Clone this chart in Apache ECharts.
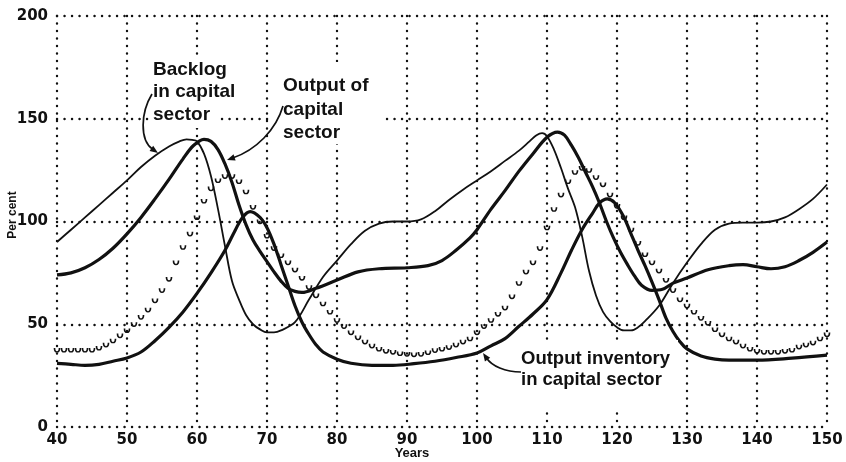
<!DOCTYPE html>
<html><head><meta charset="utf-8">
<script src="https://cdn.jsdelivr.net/npm/echarts@6/dist/echarts.min.js"></script>
<style>html,body{margin:0;padding:0;background:#fff}#c{width:846px;height:462px}</style>
</head><body><div id="c"></div>
<script>
// ---- data ----
const xTicks = [40, 50, 60, 70, 80, 90, 100, 110, 120, 130, 140, 150];
const yTicks = [0, 50, 100, 150, 200];

// Backlog in capital sector (thin line)
const backlogYears = [40,42,44,46,48,50,52,54,56,57.5,58.5,59.3,60,61,62,63,64,65,66,67,68,69,70,71,72,74,76,78,80,82,84,86,88,90,92,94,96,98,100,102,104,106,107.5,108.5,109.3,110,111,112,113,114,115,116,117,118,119,120,121,122,123,124,126,128,130,132,134,136,138,140,142,144,146,148,150];
const backlogValues = [90,96,102,108,114,120,126.5,132,136.5,139,140,139.7,139,133,122,106,88,71,62,54.5,50,47.5,46,46,47,51,62,73,81,89,95.5,99,100,100,101,105,110.5,115.5,120,124.5,129.5,134.5,139,142,143,141.5,135,126,116,107,93,76,64,56,51.5,48.5,47,47,48.5,51.5,59,70,80,89,96,99,99.5,99.5,100,102,106,111,118];

// Output of capital sector (thick line)
const outputYears = [40,42,44,46,48,50,52,54,56,58,59.5,61,62,63,64,65,66,67,68,69,70,71,72,73,74,75,77,80,83,86,90,93,95,97,99,100,102,104,106,108,110,111.5,112.5,113.5,114.5,115.5,116.5,117.5,118.5,119.5,120.5,121.5,122.5,123.5,125,126.5,128,130,133,136,138,140,142,144,146,148,150];
const outputValues = [74,75,77.5,81.5,87,94,102,111,120.5,130.5,137,140,139,135,128,119,108,98.5,91,85.5,80.5,75.5,71,67.5,66,65.5,67.5,71.5,75.5,77,77.5,78.5,81,86,92,96,106,115,124.5,133,141,143.5,142,137,131,124,117,109,100,92,85,79,73.5,69,66.5,67,70,72.5,76.5,78.5,79,78,77,78,81,85,90];

// Output inventory in capital sector (thick line)
const inventoryYears = [40,42,44,46,48,50,52,54,56,58,60,62,64,65.5,66.5,67.6,69,70,71,72,73,74,75,76,77,78,80,82,85,88,91,94,97,100,102,104,106,108,110,112,113.5,115,116.5,117.5,118.6,119.7,121,122,123,124,125,126,127,128,129,130,132,134,136,140,145,150];
const inventoryValues = [31,30.5,30,30.5,32,33.6,36.5,42,48.5,56,65,75,86,96,102,104.8,102,97,89,79,69,59,51,45,40,36.5,33,31,30,30,30.8,32,33.8,36,39.5,43,49,55,62,75,86,96,104,109,111,109,102,94,86,78.5,70.5,62,53,46.5,41.5,38,34.5,33,32.5,32.5,33.5,35];

// Unlabelled curve drawn with small "u" marks, one per year
const markYears = Array.from({length: 111}, (_, i) => 40 + i);
const markValues = [
  37.5,37.5,37.5,37.5,37.5,37.5,38.5,40,42,44.5,
  47,50,53.5,57,61.5,66.5,72,80,87.5,94,
  102,110,116,120,122,122,119.5,114.5,107,100,
  93,87,83.5,80,76.5,72.5,68,64,60,56,
  52,49,46,43.5,41.5,39.5,38,37,36.5,35.8,
  35.5,35.3,35.5,36.3,37.3,38,38.8,40,41.5,43,
  46,49,52,55,58,63.5,70,75.5,80,87,
  97,106,113,119.5,124,126,125,121.5,118,113,
  107.5,102,96,89.5,84,80,76,71.5,66.5,62,
  59,56,53,50.6,47.5,45,43,41.5,39.5,38,
  37,36.5,36.5,36.5,37,37.5,39,40,41,43,45
];

const labelBacklog = ['Backlog', 'in capital', 'sector'];
const labelOutput = ['Output of', 'capital', 'sector'];
const labelInventory = ['Output inventory', 'in capital sector'];

// ---- chart ----
const zip = (xs, ys) => xs.map((x, i) => [x, ys[i]]);
const chart = echarts.init(document.getElementById('c'), null, {renderer: 'canvas'});
const INK = '#111';
const dotted = {color: INK, width: 2.4, type: [0.1, 7.4], cap: 'round'};

const tickFont = {color: INK, fontSize: 15, fontWeight: 'bold', fontFamily: 'DejaVu Sans'};
const LABEL_FONT = 'bold 19px "Liberation Sans"';

function arrow(x0, y0, c1x, c1y, c2x, c2y, x1, y1) {
  const dx = x1 - c2x, dy = y1 - c2y, L = Math.hypot(dx, dy);
  const ux = dx / L, uy = dy / L, len = 8, w = 3.2;
  const bx = x1 - ux * len, by = y1 - uy * len;
  return [
    {type: 'bezierCurve', z: 20, shape: {x1: x0, y1: y0, cpx1: c1x, cpy1: c1y, cpx2: c2x, cpy2: c2y, x2: bx + ux * 2, y2: by + uy * 2},
     style: {stroke: INK, lineWidth: 1.7, fill: null}},
    {type: 'polygon', z: 20, shape: {points: [[x1, y1], [bx - uy * w, by + ux * w], [bx + uy * w, by - ux * w]]},
     style: {fill: INK}}
  ];
}
function txt(s, x, y, font) {
  return {type: 'text', z: 21, x: x, y: y,
    style: {text: s, fill: INK, font: font, textAlign: 'left', textVerticalAlign: 'middle'}};
}
function box(x, y, w, h) {
  return {type: 'rect', z: 19, shape: {x: x, y: y, width: w, height: h}, style: {fill: '#fff'}};
}

const graphics = [
  box(150, 57, 88, 24), box(150, 81, 94, 23), box(150, 104, 70, 24),
  box(270, 62, 114, 82),
  box(515, 340, 163, 70),
  txt(labelBacklog[0], 153, 70, LABEL_FONT), txt(labelBacklog[1], 153, 92, LABEL_FONT), txt(labelBacklog[2], 153, 115, LABEL_FONT),
  txt(labelOutput[0], 283, 86, LABEL_FONT), txt(labelOutput[1], 283, 110, LABEL_FONT), txt(labelOutput[2], 283, 133, LABEL_FONT),
  txt(labelInventory[0], 521, 359, 'bold 18.5px "Liberation Sans"'), txt(labelInventory[1], 521, 380, 'bold 18.5px "Liberation Sans"'),
  {type: 'text', z: 21, x: 13, y: 215, rotation: Math.PI / 2,
   style: {text: 'Per cent', fill: INK, font: 'bold 12px "Liberation Sans"', textAlign: 'center', textVerticalAlign: 'middle'}},
  {type: 'text', z: 21, x: 412, y: 453,
   style: {text: 'Years', fill: INK, font: 'bold 13px "Liberation Sans"', textAlign: 'center', textVerticalAlign: 'middle'}},
  ...arrow(152, 94, 141, 112, 139, 140, 158, 153),
  ...arrow(283, 106, 276, 130, 256, 150, 227, 160),
  ...arrow(521, 372, 505, 372, 492, 366, 483, 353)
];

chart.setOption({
  animation: false,
  backgroundColor: '#fff',
  grid: {left: 57, right: 19, top: 16, bottom: 35},
  xAxis: {
    type: 'value', min: xTicks[0], max: xTicks[xTicks.length - 1], interval: 10,
    axisLine: {show: false}, axisTick: {show: false},
    axisLabel: Object.assign({margin: 6}, tickFont),
    splitLine: {show: true, lineStyle: dotted}
  },
  yAxis: {
    type: 'value', min: yTicks[0], max: yTicks[yTicks.length - 1], interval: 50,
    axisLine: {show: false}, axisTick: {show: false},
    axisLabel: Object.assign({margin: 9}, tickFont),
    splitLine: {show: true, lineStyle: dotted}
  },
  series: [
    {type: 'line', name: 'Backlog in capital sector', data: zip(backlogYears, backlogValues),
     smooth: 0.35, showSymbol: false, lineStyle: {color: INK, width: 1.8}, z: 5},
    {type: 'line', name: 'Output of capital sector', data: zip(outputYears, outputValues),
     smooth: 0.35, showSymbol: false, lineStyle: {color: INK, width: 3.2}, z: 5},
    {type: 'line', name: 'Output inventory in capital sector', data: zip(inventoryYears, inventoryValues),
     smooth: 0.35, showSymbol: false, lineStyle: {color: INK, width: 3.2}, z: 5},
    {type: 'line', name: 'marks', data: zip(markYears, markValues),
     showSymbol: true, showAllSymbol: true, symbol: 'path://M0,0 C0,7 8,7 8,0', symbolSize: [5, 4],
     itemStyle: {color: 'rgba(0,0,0,0)', borderColor: INK, borderWidth: 1.5},
     lineStyle: {width: 0, opacity: 0}, z: 4}
  ],
  graphic: graphics
});
</script>
</body></html>
